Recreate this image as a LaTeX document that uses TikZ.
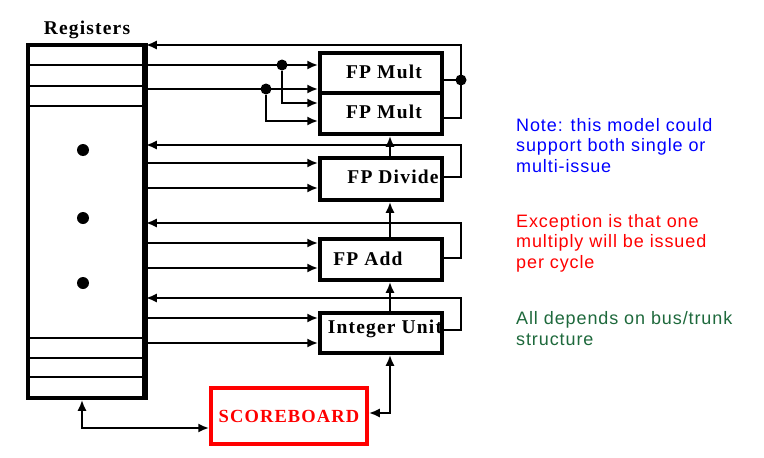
\documentclass[tikz,border=0pt]{standalone}
\usepackage{fontspec}
\setmainfont{Liberation Serif}
\newfontfamily\notefont{Liberation Sans}[LetterSpace=5]
\newfontfamily\unitfont{Liberation Serif}[LetterSpace=6]
\usetikzlibrary{arrows.meta}
\definecolor{notegreen}{RGB}{30,105,60}
\begin{document}
\begin{tikzpicture}[x=1pt,y=-1pt]
	\tikzstyle{unit} = [draw, line width=3.5pt, rectangle, minimum width=122pt, inner sep=0pt]
	\tikzstyle{unitlabel} = [inner sep=0pt, font={\unitfont\bfseries\fontsize{19.5}{19.5}\selectfont}]
	\tikzstyle{bus} = [line width=2.3pt]
	\tikzstyle{arr} = [bus, -{Latex[length=11pt,width=9pt]}]
	\tikzstyle{arrboth} = [bus, {Latex[length=11pt,width=9pt]}-{Latex[length=11pt,width=9pt]}]
	\tikzstyle{dot} = [fill, circle, inner sep=0pt, minimum size=11pt]
	\tikzstyle{note} = [anchor=base west, align=left, inner sep=0pt, font={\notefont\fontsize{18}{20.5}\selectfont}]
	\useasboundingbox (0,0) rectangle (764,458);

	% register file
	\node[draw, line width=3.5pt, minimum width=116pt, minimum height=353pt, inner sep=0pt] (reg) at (86,221.5) {};
	\node[unitlabel] (reglabel) at (87,30) {Registers};
	\foreach \y in {65,86,106,338,358,377}
		\draw[line width=2.3pt] (reg.west |- 0,\y) -- (reg.east |- 0,\y);
	\draw[line width=5pt] (reg.north east) -- (reg.south east);
	\foreach \y/\n in {150/a,218/b,283/c}
		\node[dot, minimum size=12pt] (regdot\n) at (83,\y) {};

	% functional units
	\node[unit, minimum height=40pt] (mult1) at (381,73) {};
	\node[unit, minimum height=41pt] (mult2) at (381,113.5) {};
	\node[unit, minimum height=42pt] (div) at (381,179) {};
	\node[unit, minimum height=41pt] (add) at (381,259.5) {};
	\node[unit, minimum height=40pt] (int) at (381,333) {};
	\node[unitlabel] (mult1text) at (384,72) {FP Mult};
	\node[unitlabel] (mult2text) at (384,112) {FP Mult};
	\node[unitlabel] (divtext) at (393,177) {FP Divide};
	\node[unitlabel] (addtext) at (368,259) {FP Add};
	\node[unitlabel] (inttext) at (385,329) {Integer Unit};
	\node[draw=red, line width=3.5pt, minimum width=156pt, minimum height=56pt, inner sep=0pt, text=red, font={\unitfont\bfseries\fontsize{18.5}{18.5}\selectfont}] (score) at (289,416) {SCOREBOARD};

	% multipliers
	\draw[arr] (mult2.east |- 0,118) -| (461,45) -- (reg.east |- 0,45);
	\draw[bus] (mult1.east |- 0,80) -- (461,80);
	\node[dot] (multdot) at (461,80) {};
	\draw[arr] (reg.east |- 0,65) -- (mult1.west |- 0,65);
	\draw[arr] (reg.east |- 0,89) -- (mult1.west |- 0,89);
	\node[dot] (fan1) at (282,65) {};
	\node[dot] (fan2) at (266,89) {};
	\draw[arr] (fan1) |- (mult2.west |- 0,103);
	\draw[arr] (fan2) |- (mult2.west |- 0,121);

	% divide
	\draw[arr] (div.east |- 0,177) -| (461,145) -- (reg.east |- 0,145);
	\draw[arr] (reg.east |- 0,163) -- (div.west |- 0,163);
	\draw[arr] (reg.east |- 0,188) -- (div.west |- 0,188);
	\draw[arr] (div.north -| 390,0) -- (mult2.south -| 390,0);

	% add
	\draw[arr] (add.east |- 0,258) -| (461,223) -- (reg.east |- 0,223);
	\draw[arr] (reg.east |- 0,243) -- (add.west |- 0,243);
	\draw[arr] (reg.east |- 0,268) -- (add.west |- 0,268);
	\draw[arr] (add.north -| 390,0) -- (div.south -| 390,0);

	% integer
	\draw[arr] (int.east |- 0,330) -| (461,298) -- (reg.east |- 0,298);
	\draw[arr] (reg.east |- 0,318) -- (int.west |- 0,318);
	\draw[arr] (reg.east |- 0,343) -- (int.west |- 0,343);
	\draw[arr] (int.north -| 390,0) -- (add.south -| 390,0);

	% scoreboard
	\draw[arrboth] (score.east |- 0,413) -| (int.south -| 390,0);
	\draw[arrboth] (reg.south -| 82,0) |- (score.west |- 0,428);

	% notes
	\node[note, text=blue] (note1) at (516,172) {Note: this model could\\support both single or\\multi-issue};
	\node[note, text=red] (note2) at (516,268) {Exception is that one\\multiply will be issued\\per cycle};
	\node[note, text=notegreen] (note3) at (516,345) {All depends on bus/trunk\\structure};
\end{tikzpicture}
\end{document}
